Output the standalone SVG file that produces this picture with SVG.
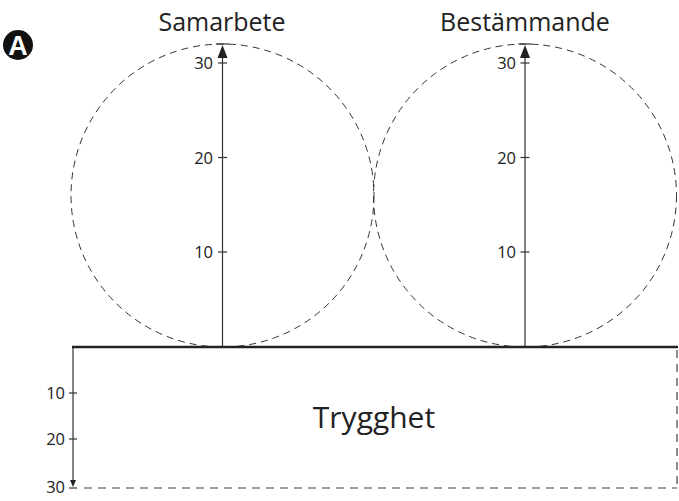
<svg xmlns="http://www.w3.org/2000/svg" width="679" height="501" viewBox="0 0 679 501">
<defs>
<style>
.circ{fill:none;stroke:#333;stroke-width:1;stroke-dasharray:7,5}
.axis{stroke:#333;stroke-width:1.2;fill:none}
.tick{stroke:#333;stroke-width:1.2}
.num{font-family:"Open Sans","Liberation Sans",sans-serif;font-size:16.5px;fill:#222;text-anchor:end}
.title{font-family:"Open Sans","Liberation Sans",sans-serif;font-size:25px;fill:#222;text-anchor:middle}
.dash{stroke:#444;stroke-width:1.2;stroke-dasharray:8,6;fill:none}
</style>
</defs>
<rect width="679" height="501" fill="#fff"/>
<g id="badge">
<circle cx="18" cy="45" r="15" fill="#111"/>
<text x="18" y="54.5" font-family="'Liberation Sans',sans-serif" font-weight="bold" font-size="27" fill="#fff" text-anchor="middle">A</text>
</g>
<g id="samarbete">
<circle class="circ" cx="222.5" cy="195.5" r="151.5"/>
<text class="title" x="222" y="31">Samarbete</text>
<line class="axis" x1="222.5" y1="347" x2="222.5" y2="52"/>
<path d="M217.5,58 L222.5,45 L227.5,58 Z" fill="#222"/>
<line class="tick" x1="216" y1="44" x2="229" y2="44"/>
<line class="tick" x1="218" y1="63" x2="227" y2="63"/>
<line class="tick" x1="218" y1="157.5" x2="227" y2="157.5"/>
<line class="tick" x1="218" y1="252" x2="227" y2="252"/>
<text class="num" x="213" y="69">30</text>
<text class="num" x="213" y="163.5">20</text>
<text class="num" x="213" y="258">10</text>
</g>
<g id="bestammande">
<circle class="circ" cx="525" cy="195.5" r="151.5"/>
<text class="title" x="525" y="31">Bestämmande</text>
<line class="axis" x1="525" y1="347" x2="525" y2="52"/>
<path d="M520,58 L525,45 L530,58 Z" fill="#222"/>
<line class="tick" x1="518.5" y1="44" x2="531.5" y2="44"/>
<line class="tick" x1="520.5" y1="63" x2="529.5" y2="63"/>
<line class="tick" x1="520.5" y1="157.5" x2="529.5" y2="157.5"/>
<line class="tick" x1="520.5" y1="252" x2="529.5" y2="252"/>
<text class="num" x="516" y="69">30</text>
<text class="num" x="516" y="163.5">20</text>
<text class="num" x="516" y="258">10</text>
</g>
<g id="trygghet">
<line class="dash" x1="677" y1="350" x2="677" y2="488"/>
<line class="dash" x1="84" y1="488" x2="677" y2="488"/>
<line class="axis" x1="73" y1="347" x2="73" y2="484"/>
<path d="M70,480 L73,487 L76,480 Z" fill="#222"/>
<line class="tick" x1="69" y1="488" x2="77" y2="488"/>
<line class="tick" x1="69" y1="393" x2="77" y2="393"/>
<line class="tick" x1="69" y1="439" x2="77" y2="439"/>
<text class="num" x="65" y="399">10</text>
<text class="num" x="65" y="445">20</text>
<text class="num" x="65" y="493">30</text>
<text class="title" x="374" y="428" style="font-size:30px">Trygghet</text>
<line x1="72" y1="347" x2="678" y2="347" stroke="#222" stroke-width="2.5"/>
</g>
</svg>
